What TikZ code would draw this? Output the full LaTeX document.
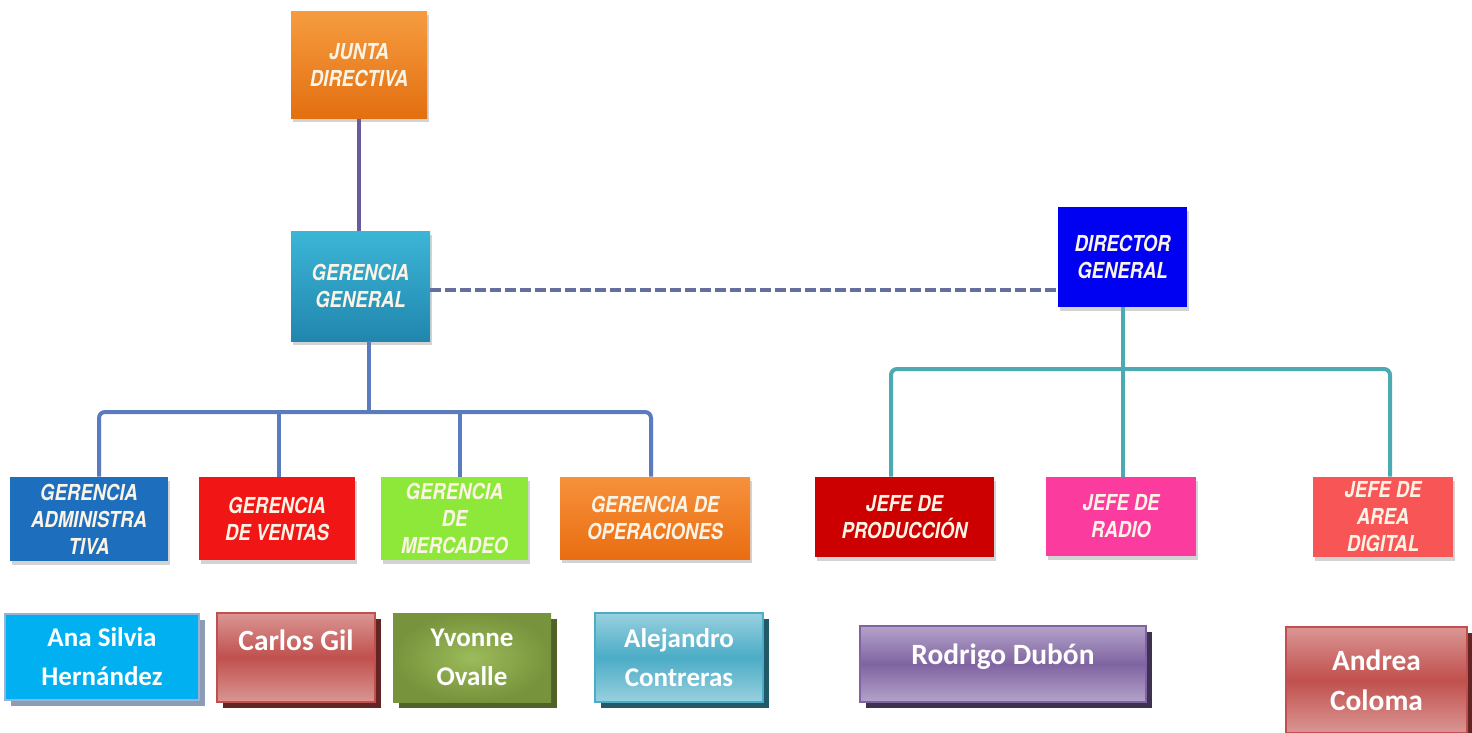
\documentclass[tikz,border=0pt]{standalone}
\usepackage{fontspec}
\setmainfont{Carlito}
\newfontfamily\gothic[FakeStretch=0.84]{TeX Gyre Heros}
\usetikzlibrary{shadows}
\definecolor{cJunTop}{HTML}{F59C40}
\definecolor{cJunBot}{HTML}{E36F10}
\definecolor{cGGTop}{HTML}{3CB6D6}
\definecolor{cGGBot}{HTML}{2186AE}
\definecolor{cDG}{HTML}{0000F2}
\definecolor{cAdm}{HTML}{1E6EBE}
\definecolor{cVen}{HTML}{F21515}
\definecolor{cMer}{HTML}{8EE83A}
\definecolor{cOpTop}{HTML}{F7913A}
\definecolor{cOpBot}{HTML}{E96D12}
\definecolor{cPro}{HTML}{CC0000}
\definecolor{cRad}{HTML}{FB3B9E}
\definecolor{cDig}{HTML}{F85656}
\definecolor{cTxt}{HTML}{FBF4E6}
\definecolor{cLinePur}{HTML}{6A5B9E}
\definecolor{cLineBlu}{HTML}{5A7BBE}
\definecolor{cLineTeal}{HTML}{4DAAB2}
\definecolor{cDash}{HTML}{63709E}
\definecolor{cAna}{HTML}{00B0F0}
\definecolor{cAnaB}{HTML}{95B3D7}
\definecolor{cAnaS}{HTML}{8C9CB4}
\definecolor{cRedL}{HTML}{DA9694}
\definecolor{cRedD}{HTML}{C0504D}
\definecolor{cRedS}{HTML}{632523}
\definecolor{cGrnD}{HTML}{77933C}
\definecolor{cGrnL}{HTML}{9CBB5A}
\definecolor{cGrnS}{HTML}{4F6228}
\definecolor{cAquL}{HTML}{98D0DF}
\definecolor{cAquD}{HTML}{4BACC6}
\definecolor{cAquS}{HTML}{215968}
\definecolor{cPurL}{HTML}{B3A3C9}
\definecolor{cPurD}{HTML}{8064A2}
\definecolor{cPurS}{HTML}{3F3151}
\tikzset{
  orgbox/.style={rectangle, inner sep=2pt, align=center, text=cTxt,
    font=\gothic\bfseries\itshape\fontsize{11}{13.5}\selectfont,
    drop shadow={opacity=0.35, shadow xshift=1pt, shadow yshift=-2pt}},
  namebox/.style={rectangle, inner sep=2pt, align=center, text=white,
    font=\bfseries\fontsize{13.5}{19.5}\selectfont, line width=1.2pt},
  bignames/.style={font=\bfseries\fontsize{14.7}{20}\selectfont},
  gline/.style={line width=2pt, cLineBlu, rounded corners=3pt},
  tline/.style={line width=2pt, cLineTeal, rounded corners=3pt},
  pline/.style={line width=2pt, cLinePur},
  dline/.style={line width=1.6pt, cDash, dash pattern=on 5.5pt off 2pt}
}
\begin{document}
\begin{tikzpicture}[x=0.5pt,y=-0.5pt]
\useasboundingbox (0,0) rectangle (1472,733);
% top level
\node[orgbox, top color=cJunTop, bottom color=cJunBot, minimum width=68pt, minimum height=53.5pt] (junta) at (359,65) {JUNTA\\DIRECTIVA};
\node[orgbox, top color=cGGTop, bottom color=cGGBot, minimum width=69.5pt, minimum height=55pt] (gg) at (360.5,286) {GERENCIA\\GENERAL};
\node[orgbox, fill=cDG, minimum width=64.5pt, minimum height=50pt] (dg) at (1122.5,257) {DIRECTOR\\GENERAL};
% second level left
\node[orgbox, fill=cAdm, minimum width=79pt, minimum height=42pt] (adm) at (89,519) {GERENCIA\\ADMINISTRA\\TIVA};
\node[orgbox, fill=cVen, minimum width=78pt, minimum height=41.5pt] (ven) at (277,518.5) {GERENCIA\\DE VENTAS};
\node[orgbox, fill=cMer, minimum width=73.5pt, minimum height=41.5pt] (mer) at (454.5,518.5) {GERENCIA\\DE\\MERCADEO};
\node[orgbox, top color=cOpTop, bottom color=cOpBot, minimum width=95pt, minimum height=41pt] (ope) at (655,518) {GERENCIA DE\\OPERACIONES};
% second level right
\node[orgbox, fill=cPro, minimum width=89.5pt, minimum height=40pt] (pro) at (904.5,517) {JEFE DE\\PRODUCCIÓN};
\node[orgbox, fill=cRad, minimum width=75pt, minimum height=39.5pt] (rad) at (1121,516.5) {JEFE DE\\RADIO};
\node[orgbox, fill=cDig, minimum width=70pt, minimum height=40pt] (dig) at (1383,517) {JEFE DE\\AREA\\DIGITAL};
% names
\node[namebox, fill=cAna, draw=cAnaB, minimum width=97pt, minimum height=43pt,
  drop shadow={opacity=1, fill=cAnaS, shadow xshift=3pt, shadow yshift=-3pt}] (ana) at (102,657) {Ana Silvia\\Hernández};
\node[namebox, bignames, top color=cRedL, bottom color=cRedL, middle color=cRedD, draw=cRedD, minimum width=79pt, minimum height=44.5pt,
  drop shadow={opacity=1, fill=cRedS, shadow xshift=3pt, shadow yshift=-3pt}] (car) at (296,657.5) {\raisebox{7pt}[0.7em][0.2em]{Carlos Gil}};
\node[namebox, inner color=cGrnL, outer color=cGrnD, minimum width=79pt, minimum height=44.5pt,
  drop shadow={opacity=1, fill=cGrnS, shadow xshift=3pt, shadow yshift=-3pt}] (yvo) at (472,657.5) {Yvonne\\Ovalle};
\node[namebox, top color=cAquL, bottom color=cAquL, middle color=cAquD, draw=cAquD, minimum width=84pt, minimum height=44.5pt,
  drop shadow={opacity=1, fill=cAquS, shadow xshift=3pt, shadow yshift=-3pt}] (ale) at (679,657.5) {Alejandro\\Contreras};
\node[namebox, bignames, top color=cPurL, bottom color=cPurL, middle color=cPurD, draw=cPurD, minimum width=143pt, minimum height=38pt,
  drop shadow={opacity=1, fill=cPurS, shadow xshift=3pt, shadow yshift=-3pt}] (rod) at (1003,664) {\raisebox{3.5pt}[0.7em][0.2em]{Rodrigo Dubón}};
\node[namebox, bignames, top color=cRedL, bottom color=cRedL, middle color=cRedD, draw=cRedD, minimum width=90.5pt, minimum height=53pt,
  drop shadow={opacity=1, fill=cRedS, shadow xshift=3pt, shadow yshift=-3pt}] (and) at (1376.5,680) {Andrea\\Coloma};
% connectors
\coordinate (gbar) at (0,412);
\coordinate (tbar) at (0,369);
\draw[pline] (junta.south) -- (junta.south |- gg.north);
\draw[dline] ([yshift=-2pt]gg.east) -- ([yshift=-2pt]gg.east -| dg.west);
\draw[gline] ([xshift=4pt]gg.south) -- ([xshift=4pt]gg.south |- gbar);
\draw[gline] ([xshift=5pt]adm.north) -- ([xshift=5pt]adm.north |- gbar) -- ([xshift=-2pt]ope.north |- gbar) -- ([xshift=-2pt]ope.north);
\draw[gline] ([xshift=1pt]ven.north) -- ([xshift=1pt]ven.north |- gbar);
\draw[gline] ([xshift=2.5pt]mer.north) -- ([xshift=2.5pt]mer.north |- gbar);
\draw[tline] (dg.south) -- (dg.south |- tbar);
\draw[tline] ([xshift=-6.75pt]pro.north) -- ([xshift=-6.75pt]pro.north |- tbar) -- ([xshift=3.5pt]dig.north |- tbar) -- ([xshift=3.5pt]dig.north);
\draw[tline] ([xshift=1pt]rad.north) -- ([xshift=1pt]rad.north |- tbar);
\end{tikzpicture}
\end{document}
